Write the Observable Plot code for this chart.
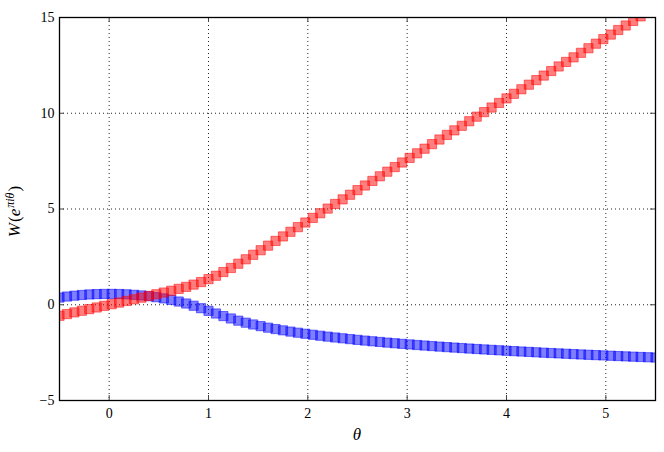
<!DOCTYPE html>
<html>
<head>
<meta charset="utf-8">
<script src="https://cdn.jsdelivr.net/npm/d3@7"></script>
<script src="https://cdn.jsdelivr.net/npm/@observablehq/plot@0.6"></script>
<style>
  html, body { margin: 0; padding: 0; background: #fff; }
</style>
</head>
<body>
<div id="chart"></div>
<script>
const theta = [-0.5,-0.425,-0.35,-0.275,-0.2,-0.125,-0.05,0.025,0.1,0.175,0.25,0.325,0.4,0.475,0.55,0.625,0.7,0.775,0.85,0.925,1.0,1.075,1.15,1.225,1.3,1.375,1.45,1.525,1.6,1.675,1.75,1.825,1.9,1.975,2.05,2.125,2.2,2.275,2.35,2.425,2.5,2.575,2.65,2.725,2.8,2.875,2.95,3.025,3.1,3.175,3.25,3.325,3.4,3.475,3.55,3.625,3.7,3.775,3.85,3.925,4.0,4.075,4.15,4.225,4.3,4.375,4.45,4.525,4.6,4.675,4.75,4.825,4.9,4.975,5.05,5.125,5.2,5.275,5.35,5.425,5.5];
const redSeries = [-0.576,-0.488,-0.400,-0.314,-0.228,-0.142,-0.057,0.028,0.114,0.199,0.285,0.371,0.459,0.546,0.637,0.730,0.829,0.934,1.052,1.185,1.337,1.514,1.709,1.920,2.143,2.374,2.609,2.847,3.086,3.334,3.568,3.810,4.053,4.294,4.536,4.778,5.021,5.262,5.503,5.744,5.986,6.227,6.467,6.708,6.949,7.189,7.428,7.668,7.908,8.148,8.388,8.628,8.867,9.106,9.344,9.583,9.822,10.060,10.299,10.538,10.776,11.015,11.252,11.491,11.730,11.967,12.205,12.443,12.681,12.919,13.156,13.395,13.633,13.871,14.108,14.346,14.582,14.820,15.058,15.297,15.534];
const blueSeries = [0.375,0.429,0.474,0.510,0.538,0.555,0.565,0.567,0.560,0.544,0.519,0.487,0.447,0.395,0.331,0.256,0.168,0.065,-0.052,-0.181,-0.318,-0.457,-0.592,-0.717,-0.831,-0.936,-1.030,-1.117,-1.197,-1.269,-1.337,-1.401,-1.459,-1.515,-1.567,-1.618,-1.665,-1.710,-1.752,-1.795,-1.833,-1.871,-1.908,-1.942,-1.977,-2.010,-2.041,-2.071,-2.102,-2.130,-2.158,-2.186,-2.212,-2.237,-2.262,-2.287,-2.311,-2.334,-2.356,-2.379,-2.402,-2.422,-2.442,-2.463,-2.483,-2.504,-2.522,-2.540,-2.559,-2.577,-2.596,-2.613,-2.630,-2.646,-2.663,-2.680,-2.696,-2.712,-2.727,-2.742,-2.757];
const xTicks = [0, 1, 2, 3, 4, 5];
const yTicks = [-5, 0, 5, 10, 15];
const xLabel = "θ";

const red = theta.map((t, i) => ({t, v: redSeries[i]}));
const blue = theta.map((t, i) => ({t, v: blueSeries[i]}));

const W = 664, H = 452, mL = 59, mR = 9, mT = 17, mB = 52;
const innerW = W - mL - mR, innerH = H - mT - mB;
const tickLen = 5;
const FONT = "'Liberation Serif', serif";

const markStyle = (c) => ({
  x: "t", y: "v", symbol: "square", r: 5.2,
  fill: c, fillOpacity: 0.5, stroke: c, strokeOpacity: 0.5, strokeWidth: 1
});

const chart = Plot.plot({
  width: W, height: H,
  marginLeft: mL, marginRight: mR, marginTop: mT, marginBottom: mB,
  style: {fontFamily: FONT, fontSize: "14px", background: "#fff", color: "#000"},
  x: {domain: [-0.5, 5.5]},
  y: {domain: [-5, 15]},
  marks: [
    Plot.gridX(xTicks, {stroke: "#000", strokeOpacity: 0.85, strokeDasharray: "1,3", strokeWidth: 1}),
    Plot.gridY(yTicks, {stroke: "#000", strokeOpacity: 0.85, strokeDasharray: "1,3", strokeWidth: 1}),
    Plot.dot(blue, {...markStyle("#0000ff"), clip: true}),
    Plot.dot(red, {...markStyle("#ff0000"), clip: true}),
    Plot.ruleX(xTicks, {x: d => d, insetTop: innerH - tickLen, stroke: "#444"}),
    Plot.ruleX(xTicks, {x: d => d, insetBottom: innerH - tickLen, stroke: "#444"}),
    Plot.ruleY(yTicks, {y: d => d, insetRight: innerW - tickLen, stroke: "#444"}),
    Plot.ruleY(yTicks, {y: d => d, insetLeft: innerW - tickLen, stroke: "#444"}),
    Plot.axisX(xTicks, {tickSize: 0, tickPadding: 8, label: null, fontFamily: FONT, fontSize: 14}),
    Plot.axisY(yTicks, {tickSize: 0, tickPadding: 5, label: null, fontFamily: FONT, fontSize: 14}),
    Plot.frame({stroke: "#000", strokeWidth: 1.3})
  ]
});

document.getElementById("chart").appendChild(chart);

const svg = d3.select(chart);
svg.append("text")
  .attr("x", mL + innerW / 2)
  .attr("y", 440)
  .attr("text-anchor", "middle")
  .attr("font-family", FONT)
  .attr("font-style", "italic")
  .attr("font-size", 17)
  .text(xLabel);

const yl = svg.append("text")
  .attr("transform", `translate(20, ${mT + innerH / 2 + 3}) rotate(-90)`)
  .attr("text-anchor", "middle")
  .attr("font-family", FONT)
  .attr("font-size", 17);
yl.append("tspan").attr("font-style", "italic").text("W");
yl.append("tspan").attr("dx", 1).text("(");
yl.append("tspan").attr("font-style", "italic").text("e");
yl.append("tspan").attr("font-style", "italic").attr("font-size", 12).attr("dy", -6).attr("dx", 1).text("πiθ");
yl.append("tspan").attr("dy", 6).attr("dx", 1).text(")");
</script>
</body>
</html>
